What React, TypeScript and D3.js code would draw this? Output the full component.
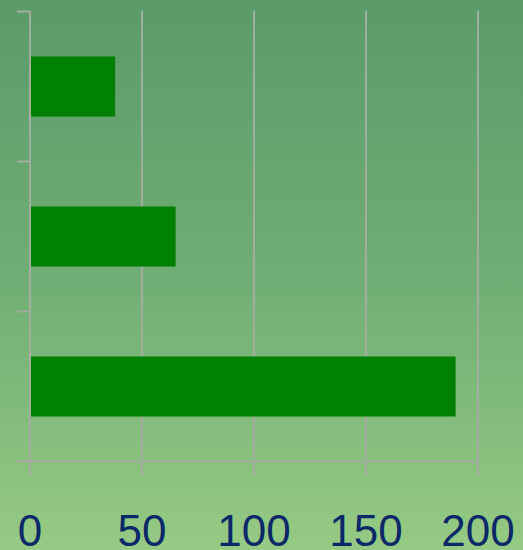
import React from "react";
import * as d3 from "d3";

const categories = ["A", "B", "C"];
const values = [38, 65, 190];
const tickValues = [0, 50, 100, 150, 200];

export default function App() {
  const W = 523, H = 550;
  const x = d3.scaleLinear().domain([0, 200]).range([30, 478]);
  const y = d3.scaleBand().domain(categories).range([11.5, 461.5]).paddingInner(0.6).paddingOuter(0.3);
  const bandEdges = [11.5, 161.5, 311.5, 461.5];
  return (
    <svg width={W} height={H} style={{ position: "absolute", left: 0, top: 0 }}>
      <defs>
        <linearGradient id="bg" x1="0" y1="0" x2="0" y2="1">
          <stop offset="0" stopColor="#5b9b69" />
          <stop offset="0.5" stopColor="#6fae74" />
          <stop offset="1" stopColor="#96ca84" />
        </linearGradient>
      </defs>
      <rect x={0} y={0} width={W} height={H} fill="url(#bg)" />
      {tickValues.map((t) => (
        <line key={"g" + t} x1={x(t)} x2={x(t)} y1={11} y2={476} stroke="#a4aca0" strokeWidth={2} />
      ))}
      {bandEdges.map((b, i) => (
        <line key={"t" + i} x1={17} x2={30} y1={b} y2={b} stroke="#a4aca0" strokeWidth={2} />
      ))}
      <line x1={17} x2={478} y1={461.5} y2={461.5} stroke="#a4aca0" strokeWidth={2} />
      {categories.map((c, i) => (
        <rect key={c} x={x(0) + 1} y={y(c)} width={x(values[i]) - x(0) - 1} height={y.bandwidth()} fill="#008000" />
      ))}
      {tickValues.map((t) => (
        <text key={"l" + t} x={x(t)} y={546} textAnchor="middle" fontFamily="Liberation Sans, Arial, sans-serif" fontSize={44} fill="#0b2868">
          {t}
        </text>
      ))}
    </svg>
  );
}
